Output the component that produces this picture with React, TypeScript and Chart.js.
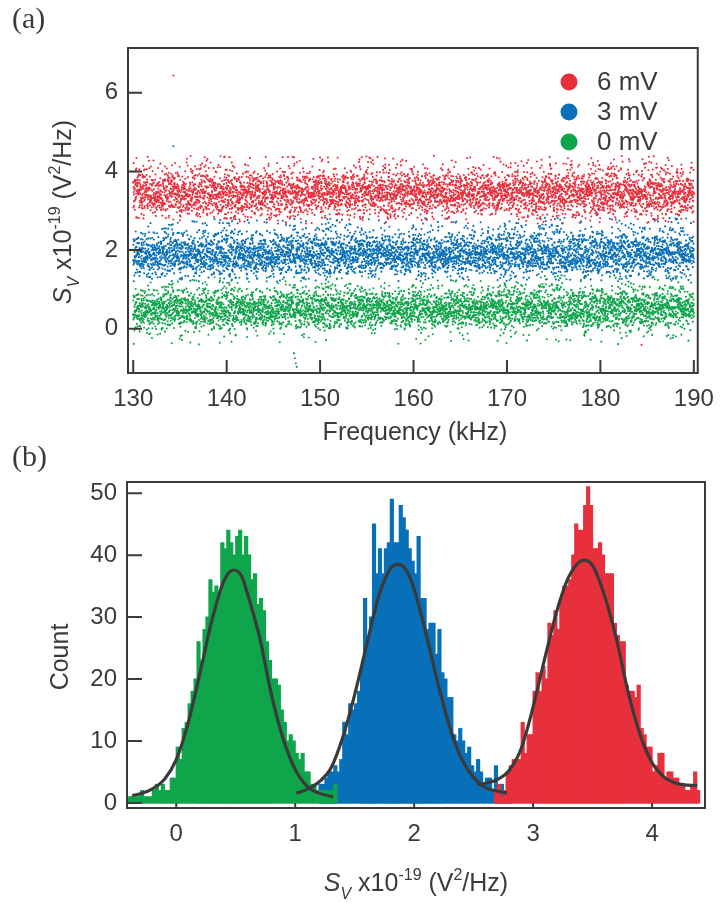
import React, { useEffect, useRef } from 'react';
import { Chart, registerables } from 'chart.js';

Chart.register(...registerables);

// ---------- colours ----------
const RED = '#E8303D';
const BLUE = '#0870B8';
const GREEN = '#0FA54B';
const INK = '#3b3b39';
const FONT = '"Liberation Sans", Arial, Helvetica, sans-serif';
const SERIF = '"Liberation Serif", "Times New Roman", serif';

// ---------- data ----------
const seriesLabels = ['6 mV', '3 mV', '0 mV'];
const binWidth = 0.025;

// histogram bin centres start / counts
const greenBinStart = -0.3875;
const greenCounts = [1, 1, 1, 1, 2, 1, 1, 1, 2, 3, 2, 3, 2, 2, 4, 4, 9, 7, 12, 13, 16, 18, 20, 26, 23, 28, 30, 36, 34, 35, 34, 42, 41, 44, 42, 40, 43, 44, 40, 43, 40, 36, 37, 32, 33, 31, 26, 23, 20, 20, 19, 15, 13, 10, 11, 10, 8, 7, 8, 5, 5, 3, 3, 2, 2, 2, 2, 2, 2, 3];
const blueBinStart = 1.2125;
const blueCounts = [3, 3, 4, 5, 5, 6, 5, 7, 13, 11, 16, 15, 16, 18, 22, 33, 26, 30, 45, 37, 41, 37, 41, 42, 49, 42, 42, 48, 46, 44, 41, 39, 37, 43, 33, 33, 28, 29, 29, 24, 28, 21, 20, 17, 17, 11, 10, 12, 10, 8, 9, 6, 5, 7, 5, 3, 4, 4, 2, 6, 2, 3, 2, 4, 2];
const redBinStart = 2.6875;
const redCounts = [2, 3, 1, 2, 5, 6, 7, 7, 7, 13, 8, 11, 11, 18, 21, 18, 22, 20, 29, 27, 31, 28, 33, 35, 35, 36, 40, 45, 44, 44, 48, 51, 48, 41, 41, 42, 40, 37, 37, 37, 29, 27, 26, 26, 19, 18, 18, 17, 19, 12, 11, 9, 9, 5, 6, 8, 8, 4, 5, 5, 4, 4, 3, 3, 2, 2, 3, 5, 2];

// fit curves
const greenFitX = [-0.37, -0.3, -0.2, -0.1, 0, 0.1, 0.2, 0.3, 0.4, 0.48, 0.55, 0.6, 0.7, 0.8, 0.9, 1.0, 1.1, 1.2, 1.32];
const greenFitY = [1.2, 1.5, 2.3, 3.8, 7.0, 12.9, 21.0, 29.5, 35.8, 37.6, 36.6, 33.7, 26.8, 17.5, 10.3, 5.4, 2.7, 1.6, 1.0];
const blueFitX = [1.01, 1.1, 1.2, 1.3, 1.4, 1.5, 1.6, 1.7, 1.8, 1.87, 1.95, 2.0, 2.1, 2.2, 2.3, 2.4, 2.5, 2.6, 2.7, 2.78];
const blueFitY = [1.6, 2.2, 3.4, 5.6, 10.6, 17.5, 25.5, 33.2, 37.8, 38.5, 37.0, 34.5, 27.3, 19.3, 12.2, 7.1, 4.1, 2.5, 1.9, 1.6];
const redFitX = [2.53, 2.6, 2.7, 2.8, 2.9, 3.0, 3.1, 3.2, 3.3, 3.43, 3.5, 3.6, 3.7, 3.8, 3.9, 4.0, 4.1, 4.2, 4.3, 4.38];
const redFitY = [3.0, 3.2, 3.8, 5.3, 8.8, 15.5, 23.5, 31.0, 36.5, 39.2, 38.3, 33.5, 26.5, 17.8, 11.0, 6.5, 4.2, 3.2, 2.9, 2.8];

// sweep (panel a)
const freqStart = 130;
const freqEnd = 190;
const sweepPointsPerTrace = 5000; // estimated density of the sweep in panel a
const redOutliers = [{ x: 134.3, y: 6.44 }, { x: 184.4, y: -0.41 }];
const blueOutliers = [{ x: 134.3, y: 4.64 }];
const greenOutliers = [{ x: 147.2, y: -0.62 }, { x: 147.3, y: -0.75 }, { x: 147.4, y: -0.88 }, { x: 147.5, y: -0.97 }];

// ticks
const topXTicks = [130, 140, 150, 160, 170, 180, 190];
const topYTicks = [0, 2, 4, 6];
const botXTicks = [0, 1, 2, 3, 4];
const botYTicks = [0, 10, 20, 30, 40, 50];

// ---------- helpers ----------
const r4 = (v: number) => Math.round(v * 10000) / 10000;

// values of the sweep taken as evenly spaced quantiles of the measured histogram
function quantileValues(start: number, counts: number[], n: number): number[] {
  const total = counts.reduce((a, b) => a + b, 0);
  const out: number[] = [];
  let bin = 0;
  let cum = 0;
  for (let m = 0; m < n; m++) {
    const q = ((m + 0.5) / n) * total;
    while (bin < counts.length - 1 && cum + counts[bin] < q) {
      cum += counts[bin];
      bin++;
    }
    const frac = Math.min(1, (q - cum) / counts[bin]);
    out.push(start - binWidth / 2 + (bin + frac) * binWidth);
  }
  return out;
}

function mixIndex(j: number): number {
  let h = Math.imul(j ^ 0x9e3779b9, 0x85ebca6b);
  h ^= h >>> 13;
  h = Math.imul(h, 0xc2b2ae35);
  h ^= h >>> 16;
  return h >>> 0;
}

// place the values along the evenly spaced frequency sweep
function sweepPoints(values: number[], salt: number) {
  const order = values.map((_, j) => j).sort((a, b) => mixIndex(a * 7 + salt) - mixIndex(b * 7 + salt));
  const n = values.length;
  return order.map((j, m) => ({ x: freqStart + ((freqEnd - freqStart) * m) / (n - 1), y: values[j] }));
}

function histData(start: number, counts: number[]) {
  return counts.map((c, i) => ({ x: r4(start + i * binWidth), y: c }));
}
function fitData(xs: number[], ys: number[]) {
  return xs.map((x, i) => ({ x, y: ys[i] }));
}

type Seg = { t: string; italic?: boolean; small?: boolean; shift?: number };
const svSegs: Seg[] = [
  { t: 'S', italic: true },
  { t: 'V', italic: true, small: true, shift: 0.3 },
  { t: ' x10' },
  { t: '-19', small: true, shift: -0.45 },
  { t: ' (V' },
  { t: '2', small: true, shift: -0.45 },
  { t: '/Hz)' },
];

function drawRich(ctx: CanvasRenderingContext2D, segs: Seg[], x: number, y: number, size: number, rotate: boolean) {
  ctx.save();
  ctx.translate(x, y);
  if (rotate) ctx.rotate(-Math.PI / 2);
  ctx.fillStyle = INK;
  ctx.textBaseline = 'alphabetic';
  ctx.textAlign = 'left';
  const fontOf = (s: Seg) => `${s.italic ? 'italic ' : ''}${s.small ? Math.round(size * 0.65) : size}px ${FONT}`;
  let total = 0;
  const widths = segs.map((s) => {
    ctx.font = fontOf(s);
    const w = ctx.measureText(s.t).width;
    total += w;
    return w;
  });
  let cx = -total / 2;
  segs.forEach((s, i) => {
    ctx.font = fontOf(s);
    ctx.fillText(s.t, cx, (s.shift || 0) * size);
    cx += widths[i];
  });
  ctx.restore();
}

function framePlugin(xTicks: number[], yTicks: number[], xLen: number, yLen: number) {
  return {
    id: 'frame',
    afterDatasetsDraw(chart: any) {
      const { ctx, chartArea: a, scales } = chart;
      ctx.save();
      ctx.strokeStyle = INK;
      ctx.lineWidth = 2;
      ctx.strokeRect(a.left, a.top, a.right - a.left, a.bottom - a.top);
      ctx.beginPath();
      xTicks.forEach((v) => {
        const px = scales.x.getPixelForValue(v);
        ctx.moveTo(px, a.bottom);
        ctx.lineTo(px, a.bottom - xLen);
      });
      yTicks.forEach((v) => {
        const py = scales.y.getPixelForValue(v);
        ctx.moveTo(a.left, py);
        ctx.lineTo(a.left + yLen, py);
      });
      ctx.stroke();
      ctx.restore();
    },
  };
}

const tickFont = { family: FONT, size: 24 };

function axis(min: number, max: number, ticks: number[], fit: (s: any) => void, padding: number) {
  return {
    type: 'linear' as const,
    min,
    max,
    offset: false,
    grid: { display: false, drawTicks: false },
    border: { display: false },
    afterBuildTicks: (s: any) => {
      s.ticks = ticks.map((v) => ({ value: v }));
    },
    afterFit: fit,
    ticks: { font: tickFont, color: INK, padding, autoSkip: false, maxRotation: 0, minRotation: 0 },
  };
}

const BOT_TOP = 430;

export default function App() {
  const topRef = useRef<HTMLCanvasElement>(null);
  const botRef = useRef<HTMLCanvasElement>(null);

  useEffect(() => {
    document.body.style.margin = '0';
    const colors = [RED, BLUE, GREEN];

    const topText = {
      id: 'topText',
      afterDraw(chart: any) {
        const ctx = chart.ctx as CanvasRenderingContext2D;
        ctx.save();
        ctx.fillStyle = INK;
        ctx.font = `30px ${SERIF}`;
        ctx.textBaseline = 'alphabetic';
        ctx.fillText('(a)', 12, 28);
        ctx.font = `25px ${FONT}`;
        ctx.textAlign = 'center';
        ctx.fillText('Frequency (kHz)', 415, 440);
        seriesLabels.forEach((lab, i) => {
          const y = 82 + i * 30;
          ctx.beginPath();
          ctx.fillStyle = colors[i];
          ctx.arc(569, y, 8.5, 0, Math.PI * 2);
          ctx.fill();
          ctx.fillStyle = INK;
          ctx.font = `26px ${FONT}`;
          ctx.textAlign = 'left';
          ctx.textBaseline = 'middle';
          ctx.fillText(lab, 597, y + 1);
        });
        ctx.restore();
        drawRich(ctx, svSegs, 71, 212, 25, true);
      },
    };

    const botText = {
      id: 'botText',
      afterDraw(chart: any) {
        const ctx = chart.ctx as CanvasRenderingContext2D;
        ctx.save();
        ctx.fillStyle = INK;
        ctx.font = `30px ${SERIF}`;
        ctx.textBaseline = 'alphabetic';
        ctx.fillText('(b)', 12, 466 - BOT_TOP);
        ctx.translate(68, 657 - BOT_TOP);
        ctx.rotate(-Math.PI / 2);
        ctx.font = `25px ${FONT}`;
        ctx.textAlign = 'center';
        ctx.fillText('Count', 0, 0);
        ctx.restore();
        drawRich(ctx, svSegs, 416, 891 - BOT_TOP, 25, false);
      },
    };

    const pt = { pointRadius: 1.05, borderWidth: 0, pointHoverRadius: 0 };
    const top = new Chart(topRef.current!, {
      type: 'scatter',
      data: {
        datasets: [
          { label: seriesLabels[0], data: [...sweepPoints(quantileValues(redBinStart, redCounts, sweepPointsPerTrace), 11), ...redOutliers], backgroundColor: RED, ...pt },
          { label: seriesLabels[1], data: [...sweepPoints(quantileValues(blueBinStart, blueCounts, sweepPointsPerTrace), 23), ...blueOutliers], backgroundColor: BLUE, ...pt },
          { label: seriesLabels[2], data: [...sweepPoints(quantileValues(greenBinStart, greenCounts, sweepPointsPerTrace), 37), ...greenOutliers], backgroundColor: GREEN, ...pt },
        ],
      },
      options: {
        animation: false,
        responsive: false,
        events: [],
        layout: { padding: { left: 0, right: 21, top: 48, bottom: 0 } },
        plugins: { legend: { display: false }, tooltip: { enabled: false } },
        scales: {
          x: axis(129.44, 190.42, topXTicks, (s: any) => { s.height = 77; }, 12),
          y: axis(-1.125, 7.14, topYTicks, (s: any) => { s.width = 128; }, 10),
        },
      },
      plugins: [framePlugin(topXTicks, topYTicks, 13, 14), topText],
    } as any);

    const bar = { barPercentage: 1, categoryPercentage: 1, grouped: false, borderWidth: 0, inflateAmount: 0.6 };
    const fit = { type: 'line', borderColor: '#3a3a3a', borderWidth: 3.2, pointRadius: 0, fill: false, cubicInterpolationMode: 'monotone', order: 0 };
    const bot = new Chart(botRef.current!, {
      type: 'bar',
      data: {
        datasets: [
          { ...fit, label: 'fit 0 mV', data: fitData(greenFitX, greenFitY) },
          { ...fit, label: 'fit 3 mV', data: fitData(blueFitX, blueFitY) },
          { ...fit, label: 'fit 6 mV', data: fitData(redFitX, redFitY) },
          { ...bar, label: seriesLabels[2], data: histData(greenBinStart, greenCounts), backgroundColor: GREEN, order: 1 },
          { ...bar, label: seriesLabels[0], data: histData(redBinStart, redCounts), backgroundColor: RED, order: 2 },
          { ...bar, label: seriesLabels[1], data: histData(blueBinStart, blueCounts), backgroundColor: BLUE, order: 3 },
        ],
      },
      options: {
        animation: false,
        responsive: false,
        events: [],
        layout: { padding: { left: 0, right: 21, top: 482 - BOT_TOP, bottom: 0 } },
        plugins: { legend: { display: false }, tooltip: { enabled: false } },
        scales: {
          x: axis(-0.414, 4.445, botXTicks, (s: any) => { s.height = 95; }, 12),
          y: axis(-0.8, 51.8, botYTicks, (s: any) => { s.width = 127; }, 10),
        },
      },
      plugins: [framePlugin(botXTicks, botYTicks, 5, 15), botText],
    } as any);

    return () => {
      top.destroy();
      bot.destroy();
    };
  }, []);

  return (
    <div style={{ position: 'absolute', left: 0, top: 0, width: 726, height: 903, background: '#fff' }}>
      <canvas ref={topRef} width={726} height={450} style={{ position: 'absolute', left: 0, top: 0, display: 'block' }} />
      <canvas ref={botRef} width={726} height={903 - BOT_TOP} style={{ position: 'absolute', left: 0, top: BOT_TOP, display: 'block' }} />
    </div>
  );
}
